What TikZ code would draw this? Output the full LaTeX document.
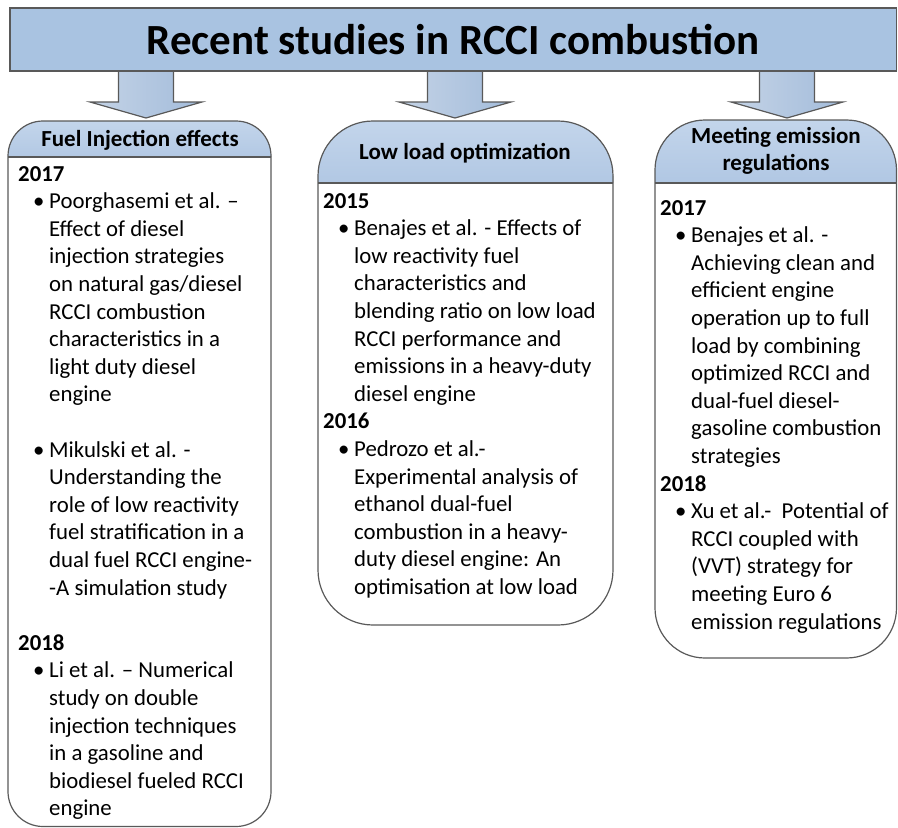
\documentclass[tikz,border=0pt]{standalone}
\usepackage{fontspec}
\setmainfont{Carlito}
\usepackage{xcolor}
\usepackage{tikz}
\usetikzlibrary{calc}

\definecolor{rcline}{HTML}{595959}
\definecolor{rcband}{HTML}{A9C3E1}
\definecolor{rcbandlt}{HTML}{D9E4F1}
\definecolor{rchead}{HTML}{C3D5EB}
\definecolor{rcheaddk}{HTML}{A2BCDD}
\definecolor{rcarrl}{HTML}{C4D3E6}
\definecolor{rcarrm}{HTML}{E9EEF4}
\definecolor{rcarrr}{HTML}{A3BCDB}

\newcommand{\rcbul}{\hspace*{15pt}\makebox[16pt][l]{\textbullet}}
\newcommand{\rcind}{\hspace*{31pt}}

\tikzset{
  banner/.style={draw=rcline, line width=1.2pt, left color=rcband,
    middle color=rcbandlt, right color=rcband, inner sep=0pt,
    font=\bfseries\fontsize{43}{50}\selectfont},
  headfill/.style={top color=rchead, bottom color=rcheaddk},
  boxline/.style={draw=rcline, line width=1.2pt},
  headtext/.style={font=\bfseries\fontsize{23}{27.5}\selectfont, align=center, inner sep=0pt},
  bodytext/.style={font=\fontsize{22.8}{27.6}\selectfont, align=left, anchor=north west, inner sep=0pt},
  pics/downarrow/.style={code={
    \draw[draw=rcline, line width=1.2pt, left color=rcarrl, middle color=rcarrm, right color=rcarrr]
      (-27.5,0) -- (-27.5,31) -- (-56,31) -- (0,47) -- (56,31) -- (27.5,31) -- (27.5,0);
  }}
}

\begin{document}
\begin{tikzpicture}[x=1pt,y=-1pt]
  \useasboundingbox (0,0) rectangle (898,828);

  % arrows from the banner down to the three columns
  \pic at (146,71) {downarrow};
  \pic at (455,71) {downarrow};
  \pic at (787,71) {downarrow};

  \node[banner, minimum width=886.5pt, minimum height=63pt] (t) at (453.25,39.5)
    {Recent studies in RCCI combustion};

  % column boxes: x left/right, top, heading line, bottom, corner radius
  \foreach \xa/\xb/\ya/\ys/\yb/\r in {8/271/121/157/826.5/35,
      318/613/121/183/625/55, 655/896.5/120/183/658/50} {
    \begin{scope}
      \clip (\xa,\ya) rectangle (\xb,\ys);
      \fill[headfill, rounded corners=\r pt] (\xa,\ya) rectangle (\xb,\ys+\r);
    \end{scope}
    \draw[boxline] (\xa,\ys) -- (\xb,\ys);
    \draw[boxline, rounded corners=\r pt] (\xa,\ya) rectangle (\xb,\yb);
  }

  \node[headtext] (h1) at (140,140) {Fuel Injection effects};
  \node[headtext] (h2) at (465,153) {Low load optimization};
  \node[headtext] (h3) at (776,151) {Meeting emission\\regulations};

  \node[bodytext] (b1) at (18,166) {\textbf{2017}\\
    \rcbul Poorghasemi et al. --\\
    \rcind Effect of diesel\\
    \rcind injection strategies\\
    \rcind on natural gas/diesel\\
    \rcind RCCI combustion\\
    \rcind characteristics in a\\
    \rcind light duty diesel\\
    \rcind engine\\[27.6pt]
    \rcbul Mikulski et al. -\\
    \rcind Understanding the\\
    \rcind role of low reactivity\\
    \rcind fuel stratification in a\\
    \rcind dual fuel RCCI engine-\\
    \rcind -A simulation study\\[27.6pt]
    \textbf{2018}\\
    \rcbul Li et al. -- Numerical\\
    \rcind study on double\\
    \rcind injection techniques\\
    \rcind in a gasoline and\\
    \rcind biodiesel fueled RCCI\\
    \rcind engine};

  \node[bodytext] (b2) at (323,193) {\textbf{2015}\\
    \rcbul Benajes et al. - Effects of\\
    \rcind low reactivity fuel\\
    \rcind characteristics and\\
    \rcind blending ratio on low load\\
    \rcind RCCI performance and\\
    \rcind emissions in a heavy-duty\\
    \rcind diesel engine\\
    \textbf{2016}\\
    \rcbul Pedrozo et al.-\\
    \rcind Experimental analysis of\\
    \rcind ethanol dual-fuel\\
    \rcind combustion in a heavy-\\
    \rcind duty diesel engine: An\\
    \rcind optimisation at low load};

  \node[bodytext] (b3) at (660,200) {\textbf{2017}\\
    \rcbul Benajes et al. -\\
    \rcind Achieving clean and\\
    \rcind efficient engine\\
    \rcind operation up to full\\
    \rcind load by combining\\
    \rcind optimized RCCI and\\
    \rcind dual-fuel diesel-\\
    \rcind gasoline combustion\\
    \rcind strategies\\
    \textbf{2018}\\
    \rcbul Xu et al.-\ \ Potential of\\
    \rcind RCCI coupled with\\
    \rcind (VVT) strategy for\\
    \rcind meeting Euro 6\\
    \rcind emission regulations};
\end{tikzpicture}
\end{document}
